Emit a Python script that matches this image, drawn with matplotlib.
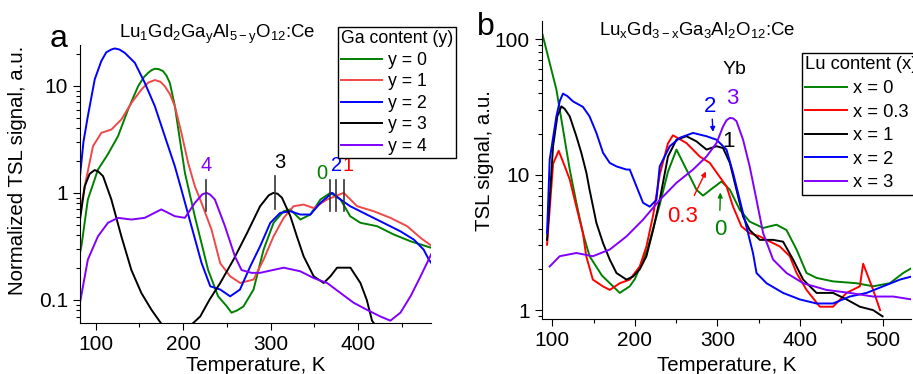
import matplotlib
matplotlib.use("Agg")
import matplotlib.pyplot as plt
from matplotlib.ticker import FormatStrFormatter, MultipleLocator, LogLocator

plt.rcParams['font.family'] = ['Liberation Sans', 'DejaVu Sans']
plt.rcParams['mathtext.fontset'] = 'custom'
plt.rcParams['mathtext.rm'] = 'Liberation Sans'
plt.rcParams['mathtext.it'] = 'Liberation Sans'

# ---- panel a: Lu1Gd2GayAl5-yO12:Ce, normalized TSL ----
a_y0_T = [82, 83.6, 91, 102.6, 114, 125.5, 137, 148.5, 155, 160, 164, 167.6, 172, 177, 181, 184.8, 190.5,
          196.2, 202, 213.4, 228.6, 240, 250, 255.3, 262, 269, 280.5, 292, 303.4, 315, 322.6, 334, 345.5,
          357, 368.4, 380, 391, 402.7, 421.8, 440.9, 460, 484]
a_y0_v = [0.275, 0.317, 0.866, 1.65, 2.3, 3.38, 6.0, 9.9, 12.0, 13.2, 14.0, 14.4, 14.3, 13.7, 12.4, 10.6, 6.45,
          3.15, 1.54, 0.60, 0.19, 0.108, 0.087, 0.076, 0.08, 0.087, 0.125, 0.295, 0.525, 0.673, 0.70, 0.563, 0.627,
          0.866, 1.0, 0.866, 0.605, 0.525, 0.488, 0.408, 0.353, 0.306]

a_y1_T = [82, 89, 96.9, 106.4, 117.9, 129.3, 140.8, 152.2, 160, 167.6, 174, 179, 185, 190.5, 198, 205.7, 213.4,
          221, 232.4, 242.4, 253.8, 265.3, 280.5, 292, 303.4, 315, 326.3, 337.8, 349.3, 364.6, 383.6,
          399, 418, 437, 456.2, 471.5, 484]
a_y1_v = [0.65, 1.33, 2.73, 3.63, 3.9, 4.84, 6.9, 9.2, 10.7, 11.3, 10.9, 9.9, 8.3, 6.45, 3.63, 1.9, 1.15,
          0.806, 0.454, 0.22, 0.166, 0.144, 0.155, 0.238, 0.393, 0.584, 0.75, 0.777, 0.72, 0.866, 1.0,
          0.75, 0.673, 0.584, 0.488, 0.38, 0.32]

a_y2_T = [82, 86, 91, 98.9, 106.4, 112, 117.9, 121.8, 127, 133.2, 144.7, 156, 167.6, 179, 190.5, 198, 209.5, 221,
          231, 242.4, 253.8, 265, 276.8, 288, 299.7, 311, 322.6, 334, 345.5, 357, 370.4, 380, 391,
          410, 429, 448.5, 463.8, 475, 481, 484]
a_y2_v = [1.43, 3.0, 5.2, 11.5, 17, 20.5, 21.8, 22.3, 21.8, 20.3, 16.4, 10.7, 6.45, 3.38, 1.77, 1.07, 0.487, 0.222,
          0.134, 0.125, 0.108, 0.125, 0.206, 0.317, 0.525, 0.65, 0.673, 0.627, 0.627, 0.806, 1.0, 0.866, 0.75,
          0.627, 0.525, 0.437, 0.366, 0.295, 0.238, 0.22]

a_y3_T = [82, 87.4, 93, 96.9, 98.9, 103, 108.4, 117.9, 129.3, 140.8, 152.2, 163.7, 175, 190, 205.7, 219.5,
          230, 242.4, 257.6, 273, 288, 298, 303.4, 308, 313, 322.6, 330, 337.8, 349.3, 360.7, 368.4, 376, 391.3,
          402.7, 410, 416, 430, 484]
a_y3_v = [0.56, 1.15, 1.5, 1.59, 1.63, 1.58, 1.43, 0.866, 0.393, 0.19, 0.116, 0.081, 0.06, 0.045, 0.055, 0.07,
          0.1, 0.144, 0.238, 0.42, 0.75, 0.95, 1.0, 0.98, 0.9, 0.605, 0.393, 0.255, 0.166, 0.144, 0.166, 0.2, 0.2,
          0.144, 0.1, 0.064, 0.045, 0.04]

a_y4_T = [82, 91, 102.6, 114, 125.5, 140.8, 156, 175, 190.5, 202, 213.4, 222, 226.7, 231, 236.3, 247.8, 259.2,
          266.8, 278.2, 288, 315, 334, 349.3, 364.6, 380, 395, 410, 425.6, 437, 448.5, 460, 471.5, 484]
a_y4_v = [0.094, 0.238, 0.393, 0.525, 0.584, 0.563, 0.584, 0.70, 0.605, 0.584, 0.806, 0.97, 1.0, 0.96, 0.866, 0.488, 0.255,
          0.19, 0.179, 0.179, 0.2, 0.185, 0.16, 0.144, 0.116, 0.094, 0.081, 0.07, 0.064, 0.076, 0.108, 0.166, 0.27]

a_labels = ['y = 0', 'y = 1', 'y = 2', 'y = 3', 'y = 4']
a_colors = ['#008000', '#f04848', '#0000ff', '#000000', '#8000ff']
a_peak_T = [226.3, 305.4, 367.6, 375.3, 383.6]
a_peak_names = ['4', '3', '0', '2', '1']

# ---- panel b: LuxGd3-xGa3Al2O12:Ce, TSL ----
b_x0_T = [88, 104.8, 121, 129, 137, 145, 160, 181.6, 193.7, 200, 215, 230, 240, 250.3, 262.4, 274.5,
          282.5, 294.7, 304.8, 315, 327, 339, 355.3, 371.5, 383.6, 395.8, 407.9, 420, 440, 468.5, 488.6,
          508.8, 525, 535]
b_x0_v = [108, 42.5, 10.9, 6.2, 3.7, 2.5, 1.8, 1.34, 1.5, 1.7, 2.8, 6.0, 10.5, 15.3, 10.9, 7.74,
          7.0, 8.0, 8.9, 7.74, 5.5, 4.5, 4.04, 4.27, 3.9, 2.8, 1.88, 1.73, 1.63, 1.58, 1.5,
          1.58, 1.88, 2.04]

b_x03_T = [93.5, 100.8, 107.6, 115, 121, 129, 137, 141, 149, 161, 169.5, 181.6, 193.7, 205.8, 213.9,
           222, 230, 240, 246, 262.4, 278.5, 290.7, 300.7, 310.9, 318.9, 329, 339, 351.3, 359.4, 375.5,
           387.6, 395.8, 407.9, 424, 440, 456.4, 472.5, 476.5, 488.6, 497]
b_x03_v = [3.04, 12.0, 15.0, 11.5, 9.2, 5.8, 3.7, 2.5, 1.68, 1.5, 1.41, 1.58, 1.68, 2.1, 2.95,
           5.0, 10.0, 17.0, 19.5, 17.1, 13.6, 12.2, 10.0, 8.2, 5.8, 4.15, 3.7, 3.5, 3.3, 2.95,
           2.5, 1.88, 1.41, 1.06, 1.06, 1.34, 1.5, 2.2, 1.41, 1.0]

b_x1_T = [93.5, 100.8, 106, 110.9, 115, 121, 129, 135, 141.2, 145, 153.3, 161.3, 169.5, 177.6, 189.7, 197.7,
          205.8, 213.9, 222, 230, 240, 250.3, 262.4, 274.5, 286.7, 298.8, 306.8, 315, 323, 331, 339,
          351.3, 367.4, 379.5, 391.6, 403.8, 420, 440, 456.4, 472.5, 488.6, 500]
b_x1_v = [3.3, 16.2, 27, 31.9, 30.5, 26.9, 19.2, 14.5, 10.3, 7.74, 4.4, 3.13, 2.36, 1.88, 1.68, 1.77,
          2.0, 2.5, 3.9, 6.5, 13.6, 18.1, 19.2, 17.6, 15.3, 16.2, 15.7, 12.2, 7.74, 4.9, 3.9,
          3.3, 3.3, 3.2, 2.36, 1.68, 1.34, 1.34, 1.2, 1.06, 1.0, 0.9]

b_x2_T = [93.5, 96.7, 104.8, 109, 112.8, 118, 125, 137, 145, 153.3, 161.3, 169.5, 177.6, 189.7, 193.7, 201.8,
          209.8, 217.9, 226, 230, 242.2, 254.3, 270.4, 286.7, 298.8, 310.9, 318.9, 327, 335, 343,
          347.3, 359.4, 379.5, 399.7, 420, 440, 460.3, 480.6, 500.8, 521, 535]
b_x2_v = [3.7, 12.9, 26.9, 35, 39.6, 38, 34.7, 31.6, 26.9, 20.3, 14.5, 12.2, 11.5, 10.9, 10.9, 8.2,
          6.2, 5.8, 6.5, 11.5, 16.2, 18.7, 20.3, 19.2, 18.1, 15.3, 10.3, 6.5, 4.15, 2.64,
          1.88, 1.58, 1.34, 1.2, 1.12, 1.12, 1.26, 1.34, 1.5, 1.68, 1.77]

b_x3_T = [96.7, 108.8, 129, 149, 169.5, 189.7, 209.8, 230, 250.3, 270.4, 286.7, 298.8, 306.8, 311, 315,
          319, 323, 331, 339, 347.3, 355.3, 367.4, 383.6, 403.8, 432, 460.3, 488.6, 513, 535]
b_x3_v = [2.1, 2.5, 2.64, 2.5, 2.8, 3.5, 4.65, 6.5, 8.7, 10.9, 13.6, 17.1, 22.7, 25.2, 26.2,
          26.0, 24.8, 18.1, 11.5, 6.5, 3.7, 2.36, 1.88, 1.58, 1.41, 1.34, 1.26, 1.26, 1.2]

b_labels = ['x = 0', 'x = 0.3', 'x = 1', 'x = 2', 'x = 3']
b_colors = ['#008000', '#ff0000', '#000000', '#0000ff', '#8000ff']

fig = plt.figure(figsize=(9.13, 3.74), dpi=100)
ax_a = fig.add_axes([0.0876, 0.1356, 0.385, 0.744])
ax_b = fig.add_axes([0.5933, 0.147, 0.405, 0.798])

a_series = [(a_y0_T, a_y0_v), (a_y1_T, a_y1_v), (a_y2_T, a_y2_v), (a_y3_T, a_y3_v), (a_y4_T, a_y4_v)]
for (t, v), lab, c in zip(a_series, a_labels, a_colors):
    ax_a.plot(t, v, color=c, lw=1.4, label=lab)

b_series = [(b_x0_T, b_x0_v), (b_x03_T, b_x03_v), (b_x1_T, b_x1_v), (b_x2_T, b_x2_v), (b_x3_T, b_x3_v)]
for (t, v), lab, c in zip(b_series, b_labels, b_colors):
    ax_b.plot(t, v, color=c, lw=1.4, label=lab)

for ax in (ax_a, ax_b):
    ax.set_yscale('log')
    ax.spines['top'].set_visible(False)
    ax.spines['right'].set_visible(False)
    ax.xaxis.set_major_locator(MultipleLocator(100))
    ax.xaxis.set_minor_locator(MultipleLocator(50))
    ax.yaxis.set_major_formatter(FormatStrFormatter('%g'))
    ax.yaxis.set_minor_locator(LogLocator(base=10, subs=range(2, 10)))
    ax.tick_params(which='major', direction='out', length=5, width=0.8, labelsize=15)
    ax.tick_params(which='minor', direction='out', length=3, width=0.8)

ax_a.set_xlim(82, 484)
ax_a.set_ylim(0.0605, 24)
ax_b.set_xlim(87, 535)
ax_b.set_ylim(0.86, 137)

# peak markers, panel a
for t, name in zip(a_peak_T, a_peak_names):
    lo, hi = (0.71, 1.45) if name == '3' else (0.67, 1.33)
    ax_a.plot([t, t], [lo, hi], color='#333333', lw=1.2)
ax_a.text(226.3, 1.8, '4', color='#8000ff', fontsize=14.5, ha='center', va='center')
ax_a.text(310, 1.9, '3', color='#000000', fontsize=14.5, ha='center', va='center')
ax_a.text(359, 1.5, '0', color='#008000', fontsize=14.5, ha='center', va='center')
ax_a.text(375.5, 1.8, '2', color='#0000ff', fontsize=14.5, ha='center', va='center')
ax_a.text(389, 1.8, '1', color='#ff0000', fontsize=14.5, ha='center', va='center')

# annotations, panel b
ax_b.text(321, 59.6, 'Yb', fontsize=14, ha='center', va='center')
ax_b.text(291.5, 31.9, '2', color='#0000ff', fontsize=16, ha='center', va='center')
ax_b.text(318.2, 36.2, '3', color='#8000ff', fontsize=16, ha='center', va='center')
ax_b.text(312.8, 17.6, '1', color='#000000', fontsize=16, ha='center', va='center')
ax_b.text(257.6, 4.92, '0.3', color='#ff0000', fontsize=16, ha='center', va='center')
ax_b.text(303.6, 3.93, '0', color='#008000', fontsize=16, ha='center', va='center')
arrow = dict(arrowstyle='-|>', lw=1, mutation_scale=7)
ax_b.annotate('', xy=(294.7, 19.7), xytext=(293.5, 26.9), arrowprops=dict(arrow, color='#0000ff'))
ax_b.annotate('', xy=(287.4, 11.0), xytext=(270.4, 6.73), arrowprops=dict(arrow, color='#ff0000'))
ax_b.annotate('', xy=(303.6, 7.74), xytext=(302.8, 5.2), arrowprops=dict(arrow, color='#008000'))

# legends
leg_kw = dict(loc='upper left', handlelength=2.3, handletextpad=0.35, borderpad=0.18,
              borderaxespad=0, fancybox=False, framealpha=1, edgecolor='black', alignment='left')
leg_a = ax_a.legend(title='Ga content (y)', bbox_to_anchor=(0.370, 0.928),
                    bbox_transform=fig.transFigure, labelspacing=0.26,
                    fontsize=12.7, title_fontsize=12.7, **leg_kw)
leg_b = ax_b.legend(title='Lu content (x)', bbox_to_anchor=(0.878, 0.858),
                    bbox_transform=fig.transFigure, labelspacing=0.36,
                    fontsize=13.2, title_fontsize=13.2, **leg_kw)
for leg in (leg_a, leg_b):
    leg.get_frame().set_linewidth(1.0)

# titles, letters, axis labels
fig.text(0.238, 0.8975, 'Lu$_\\mathregular{1}$Gd$_\\mathregular{2}$Ga$_\\mathregular{y}$Al$_\\mathregular{5-y}$O$_\\mathregular{12}$:Ce',
         fontsize=13.4, ha='center', va='baseline')
fig.text(0.764, 0.906, 'Lu$_\\mathregular{x}$Gd$_\\mathregular{3-x}$Ga$_\\mathregular{3}$Al$_\\mathregular{2}$O$_\\mathregular{12}$:Ce',
         fontsize=13.4, ha='center', va='baseline')
fig.text(0.054, 0.875, 'a', fontsize=23, ha='left', va='baseline')
fig.text(0.522, 0.906, 'b', fontsize=23, ha='left', va='baseline')
fig.text(0.2799, 0.024, 'Temperature, K', fontsize=14.7, ha='center', va='center')
fig.text(0.7959, 0.024, 'Temperature, K', fontsize=14.7, ha='center', va='center')
fig.text(0.0197, 0.545, 'Normalized TSL signal, a.u.', fontsize=14.7, ha='center', va='center', rotation=90)
fig.text(0.5312, 0.57, 'TSL signal, a.u.', fontsize=14.7, ha='center', va='center', rotation=90)

fig.savefig('out.png', dpi=100)
